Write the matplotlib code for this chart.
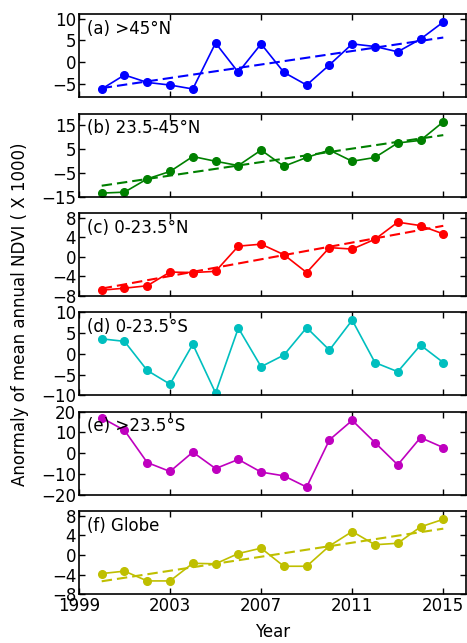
import numpy as np
import matplotlib
matplotlib.use("Agg")
import matplotlib.pyplot as plt

years = list(range(2000, 2016))

ndvi_a = [-6.1, -2.9, -4.6, -5.2, -6.1, 4.4, -2.3, 4.2, -2.3, -5.2, -0.6, 4.2, 3.6, 2.4, 5.3, 9.2]
ndvi_b = [-13.5, -13.1, -7.5, -4.4, 1.9, -0.1, -1.9, 4.6, -2.2, 1.5, 4.6, -0.1, 1.5, 7.6, 8.7, 16.5]
ndvi_c = [-6.8, -6.4, -5.9, -3.1, -3.2, -2.95, 2.2, 2.6, 0.46, -3.2, 1.9, 1.6, 3.6, 7.1, 6.4, 4.7]
ndvi_d = [3.6, 3.0, -4.0, -7.3, 2.3, -9.4, 6.2, -3.1, -0.3, 6.3, 0.9, 8.1, -2.1, -4.3, 2.1, -2.1]
ndvi_e = [17.0, 11.0, -4.5, -8.8, 0.5, -7.4, -3.0, -9.1, -10.9, -16.3, 6.4, 15.8, 5.1, -5.6, 7.5, 2.7]
ndvi_f = [-3.8, -3.3, -5.3, -5.3, -1.7, -1.8, 0.3, 1.4, -2.3, -2.3, 1.85, 4.8, 2.1, 2.4, 5.75, 7.3]

labels = ["(a) >45°N", "(b) 23.5-45°N", "(c) 0-23.5°N", "(d) 0-23.5°S", "(e) >23.5°S", "(f) Globe"]
series = [ndvi_a, ndvi_b, ndvi_c, ndvi_d, ndvi_e, ndvi_f]
colors = ["#0000ff", "#008000", "#ff0000", "#00bfbf", "#bf00bf", "#bfbf00"]
trend = [True, True, True, False, False, True]
ylims = [(-8, 11), (-15, 20), (-8, 9), (-10, 10), (-20, 20), (-8, 9)]
yticks = [[-5, 0, 5, 10], [-15, -5, 5, 15], [-8, -4, 0, 4, 8], [-10, -5, 0, 5, 10],
          [-20, -10, 0, 10, 20], [-8, -4, 0, 4, 8]]
xticks = [1999, 2003, 2007, 2011, 2015]

plt.rcParams['font.family'] = ['DejaVu Sans']
plt.rcParams['font.size'] = 12

fig, axes = plt.subplots(6, 1, figsize=(4.67, 6.43), dpi=100, sharex=True)
fig.subplots_adjust(left=0.169, right=0.998, top=0.978, bottom=0.076, hspace=0.195)

x = np.array(years)
for ax, y, c, lab, tr, yl, yt in zip(axes, series, colors, labels, trend, ylims, yticks):
    y = np.array(y)
    ax.plot(x, y, '-o', color=c, lw=1.2, ms=5.5, mec=c)
    if tr:
        p = np.polyfit(x, y, 1)
        ax.plot(x, np.polyval(p, x), color=c, lw=1.5, linestyle=(0, (5.0, 2.4)))
    ax.set_xlim(1999, 2016)
    ax.set_ylim(*yl)
    ax.set_yticks(yt)
    ax.set_xticks(xticks)
    ax.tick_params(direction='in', top=True, right=True, length=4, width=1, labelsize=12, pad=2)
    for s in ax.spines.values():
        s.set_linewidth(1.2)
    ax.text(0.02, 0.93, lab, transform=ax.transAxes, va='top', ha='left', fontsize=12)

axes[-1].set_xlabel("Year", fontsize=12, labelpad=6)
fig.text(0.042, 0.511, "Anormaly of mean annual NDVI ( X 1000)", rotation=90,
         va='center', ha='center', fontsize=12)

fig.savefig("out.png", dpi=100, facecolor='white')
